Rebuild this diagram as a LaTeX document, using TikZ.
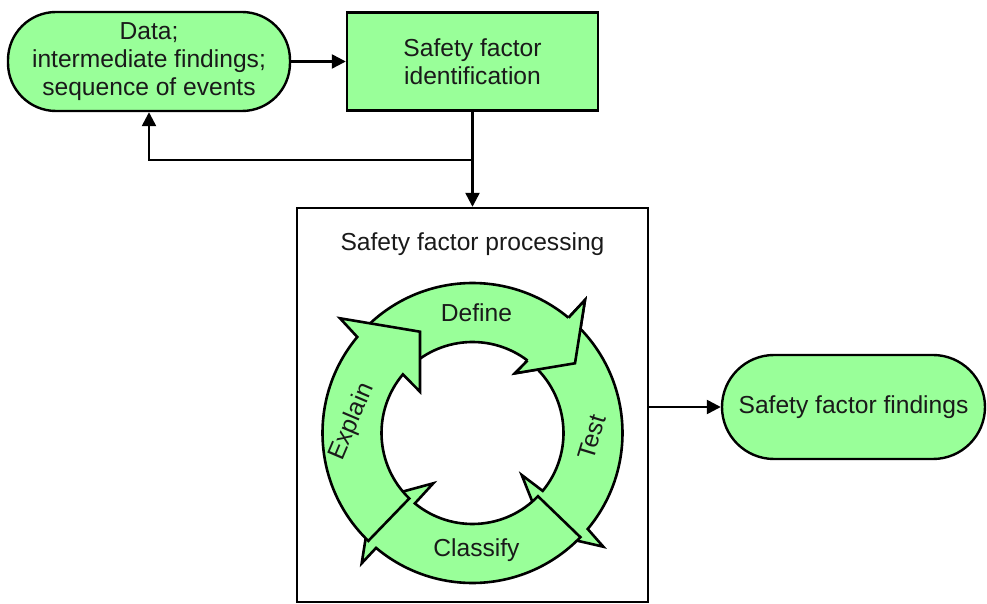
\documentclass[tikz,border=0pt]{standalone}
\usepackage{fontspec}
\setmainfont{Liberation Sans}
\usetikzlibrary{arrows.meta}
\definecolor{lgreen}{HTML}{99FF99}
\definecolor{txt}{HTML}{1A1A1A}
\tikzset{
  base/.style={draw=black, line width=1.2pt, text=txt, align=center,
    font=\fontsize{12.3}{14}\selectfont, inner sep=0pt},
  roundbox/.style={base, fill=lgreen, rounded corners=24pt},
  greenrect/.style={base, fill=lgreen},
  arr/.style={draw=black, line width=1.2pt, -{Triangle[length=7pt,width=7pt]}},
  ring/.style={fill=lgreen, draw=black, line width=1.3pt},
  ringtxt/.style={text=txt, font=\fontsize{12.3}{14}\selectfont, inner sep=0pt}
}
\begin{document}
\begin{tikzpicture}[x=0.5pt, y=-0.5pt]
\path[use as bounding box] (0,0) rectangle (987,604);

% nodes
\node[roundbox, minimum width=141pt, minimum height=49.5pt] (data) at (149,61.5)
  {Data;\\intermediate findings;\\sequence of events};
\node[greenrect, minimum width=125.5pt, minimum height=49pt] (sfi) at (472.5,61.5)
  {Safety factor\\identification};
\node[base, minimum width=175.5pt, minimum height=197pt] (proc) at (472.5,405) {};
\node[ringtxt] (ptitle) at (472.5,244) {Safety factor processing};
\node[roundbox, rounded corners=26pt, minimum width=131.5pt, minimum height=52pt] (find) at (853.5,407)
  {Safety factor findings};

% connectors
\draw[arr] (data) -- (sfi);
\draw[arr] (sfi.south) -- (proc.north);
\coordinate (junc) at (472.5,160);
\draw[arr] (junc) -| (data.south);
\draw[arr] (proc.east |- find.west) -- (find.west);

% cycle
\begin{scope}[shift={(472.5,433)}, x=0.5pt, y=0.5pt]
  % Define
  \path[ring] (136:150) arc[start angle=136, end angle=50.2, radius=150]
    -- (112.5,133) -- (102.5,69.7) -- (42.5,59.7) -- (52.8:91)
    arc[start angle=52.8, end angle=136, radius=91] -- cycle;
  % Test
  \path[ring] (47:150) arc[start angle=47, end angle=-39.8, radius=150]
    -- (130.8,-113.7) -- (72.5,-100.3) -- (49.2,-42) -- (-39.5:91)
    arc[start angle=-39.5, end angle=47, radius=91] -- cycle;
  % Classify
  \path[ring] (-44:150) arc[start angle=-44, end angle=-130, radius=150]
    -- (-110.8,-130.3) -- (-100.8,-67) -- (-39.2,-50.3) -- (-129.3:91)
    arc[start angle=-129.3, end angle=-44, radius=91] -- cycle;
  % Explain
  \path[ring] (226:150) arc[start angle=226, end angle=140.2, radius=150]
    -- (-132.5,114.7) -- (-52.5,101.3) -- (-52.5,41.3) -- (139.9:91)
    arc[start angle=139.9, end angle=226, radius=91] -- cycle;
  % Define head again, on top of the tail of Test
  \fill[lgreen] (50.2:150) -- (112.5,133) -- (102.5,69.7) -- (42.5,59.7) -- (52.8:91) -- cycle;
  \draw[black, line width=1.3pt] (50.2:150) -- (112.5,133) -- (102.5,69.7) -- (42.5,59.7) -- (52.8:91);
\end{scope}

\node[ringtxt] (tdefine) at (476.5,313) {Define};
\node[ringtxt, rotate=73] (ttest) at (592,437) {Test};
\node[ringtxt] (tclassify) at (476.5,550) {Classify};
\node[ringtxt, rotate=67] (texplain) at (352,422) {Explain};
\end{tikzpicture}
\end{document}
